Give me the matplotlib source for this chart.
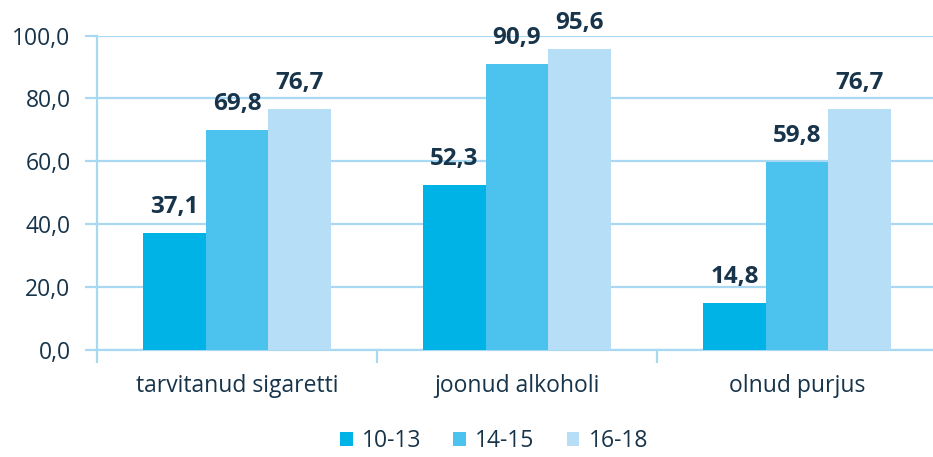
import numpy as np
import matplotlib.pyplot as plt

plt.rcParams['font.family'] = ['Open Sans', 'DejaVu Sans']

categories = ['tarvitanud sigaretti', 'joonud alkoholi', 'olnud purjus']
groups = ['10-13', '14-15', '16-18']
v_10_13 = [37.1, 52.3, 14.8]
v_14_15 = [69.8, 90.9, 59.8]
v_16_18 = [76.7, 95.6, 76.7]
yticks = [0, 20, 40, 60, 80, 100]

colors = ['#00b3e6', '#4cc3ef', '#b6def6']
line_col = '#a8d8f2'
txt_col = '#17344a'

fig = plt.figure(figsize=(9.33, 4.57), dpi=100)
ax = fig.add_axes([97/933, 107.5/457, 840/933, 314/457])

x = np.arange(len(categories))
w = 0.223
for i, (vals, lab) in enumerate(zip([v_10_13, v_14_15, v_16_18], groups)):
    bars = ax.bar(x + (i - 1) * w, vals, w, color=colors[i], label=lab, zorder=3)
    ax.bar_label(bars, labels=[f'{v:.1f}'.replace('.', ',') for v in vals],
                 padding=10, fontsize=17.5, fontweight='bold', color=txt_col)

ax.set_xlim(-0.5, 2.5)
ax.set_ylim(0, 100)
ax.set_yticks(yticks)
ax.set_yticklabels([f'{v:.1f}'.replace('.', ',') for v in yticks])
ax.yaxis.grid(True, color=line_col, linewidth=1.6, zorder=0)

ax.set_xticks([-0.5, 0.5, 1.5, 2.5])
ax.set_xticklabels([])
ax.set_xticks(x, minor=True)
ax.set_xticklabels(categories, minor=True)
ax.tick_params(axis='x', which='minor', length=0, pad=18, labelsize=16.5, labelcolor=txt_col)
ax.tick_params(axis='x', which='major', length=9, width=1.6, color=line_col)
ax.tick_params(axis='y', length=9, width=1.6, color=line_col, labelsize=16.5, labelcolor=txt_col, pad=10)

for s in ['top', 'right']:
    ax.spines[s].set_visible(False)
for s in ['left', 'bottom']:
    ax.spines[s].set_color(line_col)
    ax.spines[s].set_linewidth(1.6)

fig.legend(loc='center', bbox_to_anchor=(494/933, 16/457), ncol=3, frameon=False,
           fontsize=16.5, labelcolor=txt_col, handlelength=0.55, handleheight=0.55,
           handletextpad=0.4, columnspacing=1.4)

fig.savefig('out.png', dpi=100)
